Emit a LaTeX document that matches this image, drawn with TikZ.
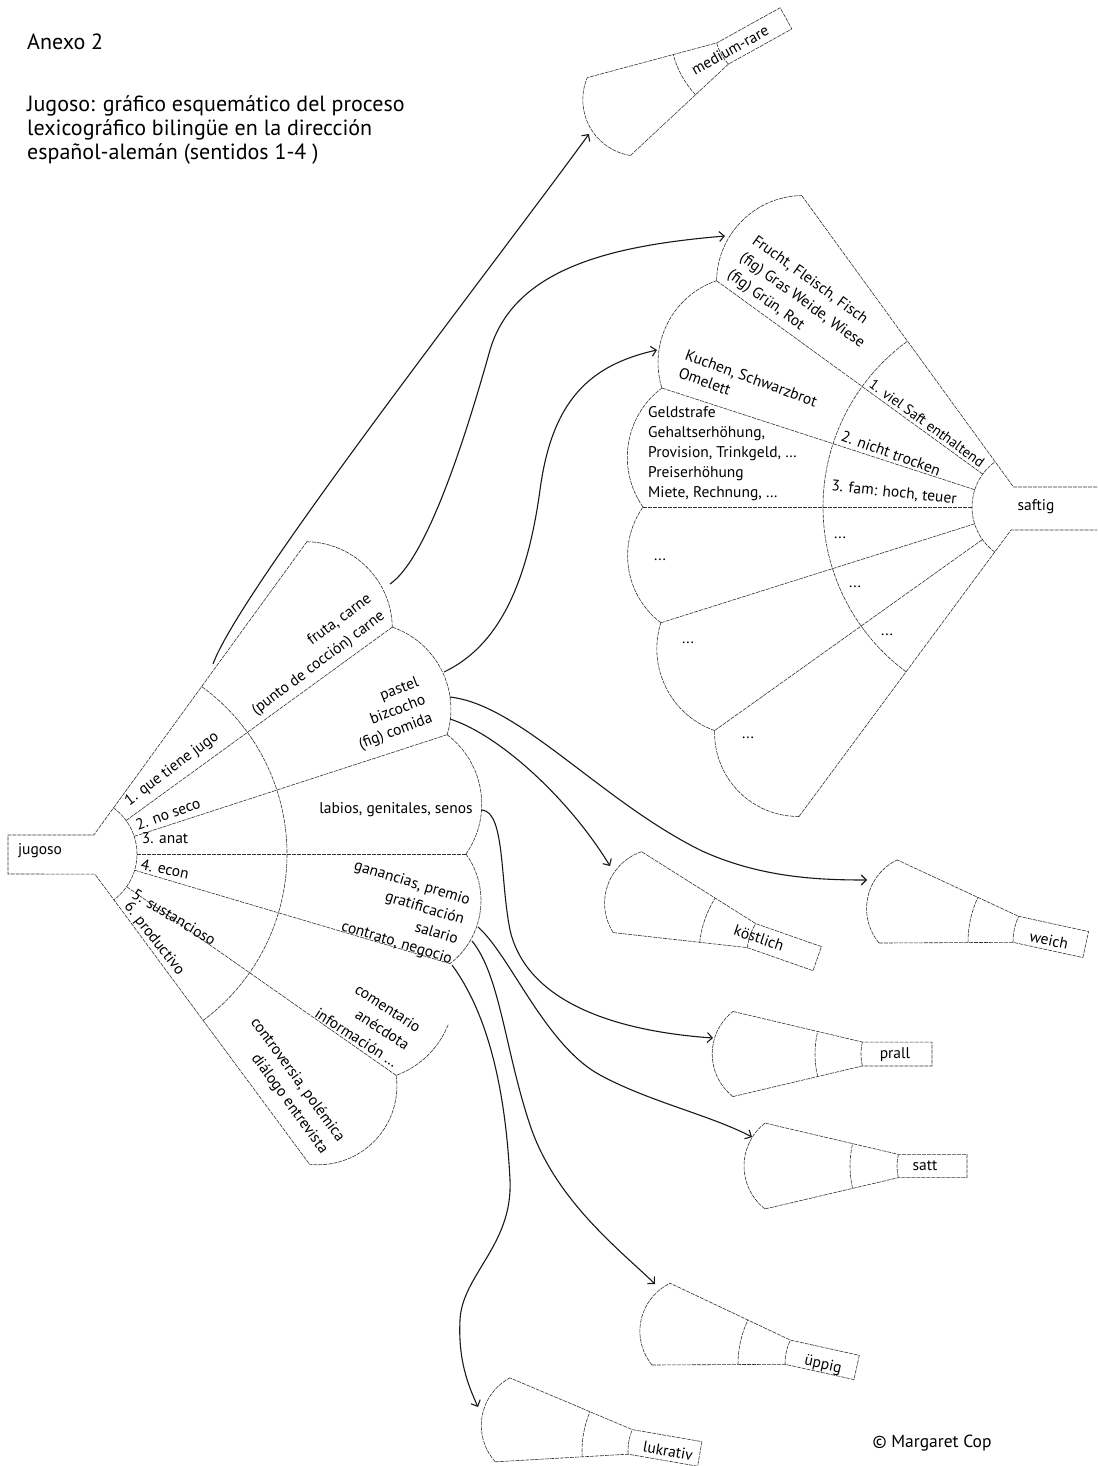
\documentclass[tikz,border=0pt]{standalone}
\usepackage{fontspec}
\setmainfont{PT Sans}
\usetikzlibrary{calc,arrows.meta}

\newcommand\myscallop[6]{%
  \pgfmathsetmacro\myScM{(#2+#3)/2}%
  \pgfmathsetmacro\myScH{(#3-#2)/2}%
  \pgfmathsetmacro\myScRho{#4*sin(\myScH)/sin(#5)}%
  \pgfmathsetmacro\myScD{#4*cos(\myScH)-\myScRho*cos(#5)}%
  \pgfmathsetmacro\myScS{\myScM-#5+#6}%
  \pgfmathsetmacro\myScE{\myScM+#5}%
  \draw[fanline] (#1) ++(\myScM:\myScD) ++(\myScS:\myScRho) arc[start angle=\myScS, end angle=\myScE, radius=\myScRho];%
}

\newcommand\mysmallfan[9]{%
  \coordinate (#1) at (#2,#3);%
  \pgfmathsetmacro\mySfU{#4-#5}%
  \pgfmathsetmacro\mySfL{#4+#5}%
  \pgfmathsetmacro\mySfB{#4+180}%
  \pgfmathsetmacro\mySfLen{#8*cos(#5)+#9}%
  \draw[fanline] ($(#1)+(\mySfU:#6)$) -- ($(#1)+(\mySfU:#8)$) -- ($(#1)+(\mySfU:#8)+(\mySfB:\mySfLen)$) -- ($(#1)+(\mySfL:#8)+(\mySfB:\mySfLen)$) -- ($(#1)+(\mySfL:#8)$) -- ($(#1)+(\mySfL:#6)$);%
  \draw[fanline] (#1) ++(\mySfU:#8) arc[start angle=\mySfU, end angle=\mySfL, radius=#8];%
  \draw[fanline] (#1) ++(\mySfU:#7) arc[start angle=\mySfU, end angle=\mySfL, radius=#7];%
  \myscallop{#1}{\mySfU}{\mySfL}{#6}{52}{0}%
}

\begin{document}
\begin{tikzpicture}[x=1pt,y=-1pt,
  fanline/.style={draw=black!80, line width=0.6pt, dash pattern=on 4pt off 1pt},
  conn/.style={draw=black!90, line width=1.1pt, -{Straight Barb[length=5pt,width=10pt]}},
  lbl/.style={font=\fontsize{15.5}{19}\selectfont, inner sep=0pt},
  ttl/.style={font=\fontsize{22}{24}\selectfont, inner sep=0pt, anchor=base west}]
\useasboundingbox (0,0) rectangle (1097,1466);

% ---------- titles ----------
\node[ttl] (anexo) at (27,50) {Anexo 2};
\node[ttl] (t1) at (27,112) {Jugoso: gráfico esquemático del proceso};
\node[ttl] (t2) at (27,136) {lexicográfico bilingüe en la dirección};
\node[ttl] (t3) at (27,160) {español-alemán (sentidos 1-4 )};
\node[font=\fontsize{17.5}{20}\selectfont, inner sep=0pt] (copy) at (932,1443) {© Margaret Cop};

% ---------- jugoso fan ----------
\coordinate (J) at (80,854);
\draw[fanline] ($(J)+(-54:386)$) -- ($(J)+(-54:23.5)$) -- (8,835) -- (8,874) -- ($(J)+(53.5:25)$) -- ($(J)+(53.5:386)$);
\foreach \a in {-36,-18,0,16.5,35} \draw[fanline] ($(J)+(\a:57)$) -- ($(J)+(\a:386)$);
\draw[fanline] (J) ++(-54:57) arc[start angle=-54,end angle=53.5,radius=57];
\draw[fanline] (J) ++(-54:207) arc[start angle=-54,end angle=53.5,radius=207];
\myscallop{J}{-54}{-36}{386}{44}{0}
\myscallop{J}{-36}{-18}{386}{44}{0}
\myscallop{J}{-18}{0}{386}{44}{0}
\myscallop{J}{0}{16.5}{386}{44}{0}
\myscallop{J}{16.5}{35}{386}{44}{40}
\myscallop{J}{35}{53.5}{386}{52}{0}

\node[lbl] (jug) at (40,851) {jugoso};
\node[lbl, rotate=37] (j1) at (172,769) {1. que tiene jugo};
\node[lbl, rotate=20] (j2) at (168,814) {2. no seco};
\node[lbl] (j3) at (165,838) {3. anat};
\node[lbl, rotate=-12] (j4) at (165,869) {4. econ};
\node[lbl, rotate=-31] (j5) at (174,917) {5. sustancioso};
\node[lbl, rotate=-52] (j6) at (154,939) {6. productivo};

\node[lbl, rotate=37, align=right, font=\fontsize{15.5}{22}\selectfont] (jo1) at (312,655) {fruta, carne\\(punto de cocción) carne};
\node[lbl, rotate=21, align=right] (jo2) at (389,714) {pastel\\bizcocho\\(fig) comida};
\node[lbl] (jo3) at (396,810) {labios, genitales, senos};
\node[lbl, rotate=-17, align=right, font=\fontsize{15.5}{20.5}\selectfont] (jo4) at (403,913) {ganancias, premio\\gratificación\\salario\\contrato, negocio};
\node[lbl, rotate=-33, align=right, font=\fontsize{15.5}{21}\selectfont] (jo5) at (368,1020) {comentario\\anécdota\\información …};
\node[lbl, rotate=-54, align=right, font=\fontsize{15.5}{20.5}\selectfont] (jo6) at (289,1086) {controversia, polémica\\diálogo entrevista};

% ---------- saftig fan ----------
\coordinate (S) at (1028,507);
\draw[fanline] ($(S)+(234:385)$) -- ($(S)+(234:24.7)$) -- (1097,487);
\draw[fanline] ($(S)+(126.5:385)$) -- ($(S)+(126.5:28.6)$) -- (1097,530);
\foreach \a in {144.5,162.5,180,198,216} \draw[fanline] ($(S)+(\a:56)$) -- ($(S)+(\a:385)$);
\draw[fanline] (S) ++(126.5:56) arc[start angle=126.5,end angle=234,radius=56];
\draw[fanline] (S) ++(126.5:205) arc[start angle=126.5,end angle=234,radius=205];
\myscallop{S}{126.5}{144.5}{385}{46}{0}
\myscallop{S}{144.5}{162.5}{385}{44}{0}
\myscallop{S}{162.5}{180}{385}{44}{0}
\myscallop{S}{180}{198}{385}{44}{0}
\myscallop{S}{198}{216}{385}{44}{0}
\myscallop{S}{216}{234}{385}{44}{0}

\node[lbl] (saf) at (1036,507) {saftig};
\node[lbl, rotate=-36, font=\fontsize{14.5}{18}\selectfont] (s1) at (927,423) {1. viel Saft enthaltend};
\node[lbl, rotate=-20] (s2) at (891,453) {2. nicht trocken};
\node[lbl, rotate=-6] (s3) at (894,493) {3. fam: hoch, teuer};
\node[lbl] (s4) at (840,538) {...};
\node[lbl] (s5) at (855,587) {...};
\node[lbl] (s6) at (887,635) {...};
\node[lbl, rotate=-36, align=left, font=\fontsize{15.5}{21}\selectfont] (so1) at (802,301) {Frucht, Fleisch, Fisch\\(fig) Gras Weide, Wiese\\(fig) Grün, Rot};
\node[lbl, rotate=-20, align=left] (so2) at (748,387) {Kuchen, Schwarzbrot\\Omelett};
\node[lbl, align=left, anchor=west, font=\fontsize{15.5}{20}\selectfont] (so3) at (648,454) {Geldstrafe\\Gehaltserhöhung,\\Provision, Trinkgeld, …\\Preiserhöhung\\Miete, Rechnung, …};
\node[lbl] (so4) at (660,560) {...};
\node[lbl] (so5) at (688,643) {...};
\node[lbl] (so6) at (748,738) {...};

% ---------- small fans ----------
\mysmallfan{mr}{765}{30}{151}{14}{184}{95}{50}{24}
\mysmallfan{ko}{804}{954}{199.3}{12.9}{192}{105}{57}{14}
\mysmallfan{we}{1074}{942}{192.3}{12.6}{195}{106}{61}{12}
\mysmallfan{pr}{913}{1054}{180}{13.3}{185}{98}{52}{19}
\mysmallfan{sa}{948}{1166}{180}{13.2}{188}{98}{51}{19}
\mysmallfan{up}{841}{1364}{192.5}{12.8}{189}{103}{56}{16}
\mysmallfan{lu}{683}{1451}{189.8}{13.1}{188}{101}{55}{17}

\node[lbl, rotate=29] (wmr) at (730,50) {medium-rare};
\node[lbl, rotate=-19] (wko) at (759,938) {köstlich};
\node[lbl, rotate=-12] (wwe) at (1049,940) {weich};
\node[lbl] (wpr) at (895,1055) {prall};
\node[lbl] (wsa) at (925,1166) {satt};
\node[lbl, rotate=-12.5] (wup) at (823,1365) {üppig};
\node[lbl, rotate=-10] (wlu) at (668,1451) {lukrativ};

% ---------- connectors ----------
\coordinate (a0) at (213,664); \coordinate (a1) at (589,134);
\coordinate (b0) at (390,584); \coordinate (b1) at (725,236);
\coordinate (c0) at (444,672); \coordinate (c1) at (657,350);
\coordinate (d0) at (450,697); \coordinate (d1) at (867,880);
\coordinate (e0) at (450,719); \coordinate (e1) at (610,866);
\coordinate (f0) at (482,810); \coordinate (f1) at (713,1038);
\coordinate (g0) at (478,927); \coordinate (g1) at (752,1137);
\coordinate (h0) at (472,941); \coordinate (h1) at (655,1284);
\coordinate (i0) at (452,965); \coordinate (i1) at (478,1407);

\draw[conn] (a0) .. controls (240,590) and (490,270) .. (a1);
\draw[conn] (b0) .. controls (425,560) and (462,450) .. (490,350) .. controls (515,265) and (620,245) .. (b1);
\draw[conn] (c0) .. controls (490,650) and (525,600) .. (540,490) .. controls (552,400) and (590,365) .. (c1);
\draw[conn] (d0) .. controls (520,705) and (600,800) .. (700,850) .. controls (760,878) and (820,880) .. (d1);
\draw[conn] (e0) .. controls (500,735) and (570,800) .. (e1);
\draw[conn] (f0) .. controls (505,812) and (500,880) .. (510,930) .. controls (525,995) and (600,1030) .. (f1);
\draw[conn] (g0) .. controls (510,955) and (545,1045) .. (600,1075) .. controls (650,1102) and (710,1115) .. (g1);
\draw[conn] (h0) .. controls (500,975) and (505,1050) .. (530,1125) .. controls (555,1200) and (620,1250) .. (h1);
\draw[conn] (i0) .. controls (485,1010) and (505,1080) .. (510,1180) .. controls (513,1245) and (462,1275) .. (460,1320) .. controls (458,1360) and (468,1385) .. (i1);
\end{tikzpicture}
\end{document}
